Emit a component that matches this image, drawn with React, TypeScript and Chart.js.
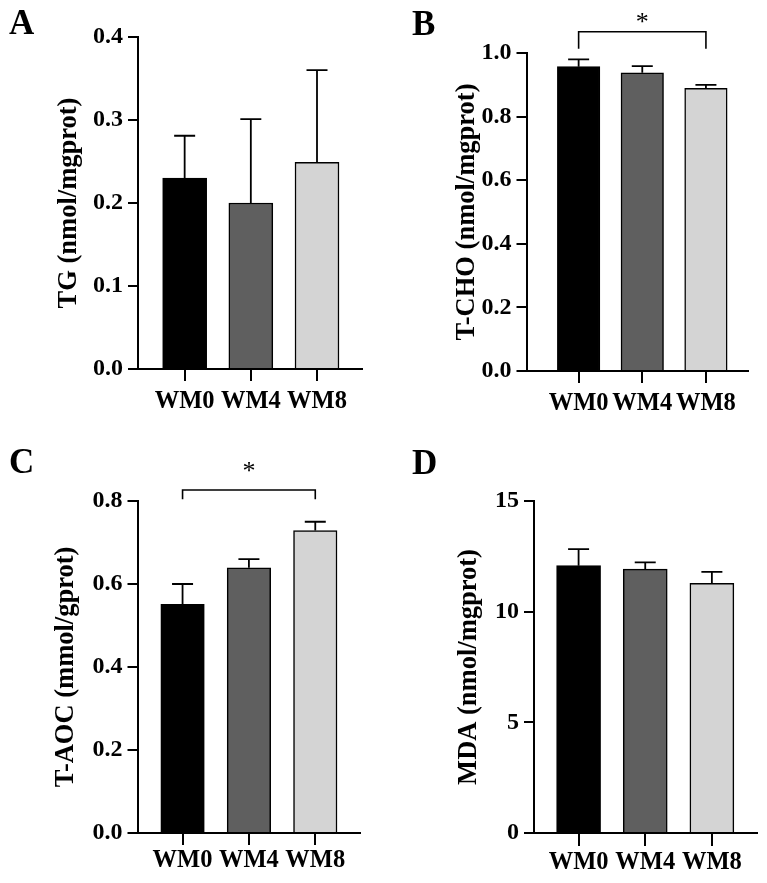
import React, { useEffect, useRef } from "react";
import { Chart, registerables } from "chart.js";

Chart.register(...registerables);

// ---------- data ----------
const categories = ["WM0", "WM4", "WM8"];

const tgMean = [0.23, 0.2, 0.249];
const tgErr = [0.051, 0.101, 0.111];
const tgTicks = [0, 0.1, 0.2, 0.3, 0.4];

const tchoMean = [0.957, 0.938, 0.889];
const tchoErr = [0.023, 0.021, 0.011];
const tchoTicks = [0, 0.2, 0.4, 0.6, 0.8, 1.0];

const taocMean = [0.551, 0.639, 0.729];
const taocErr = [0.049, 0.021, 0.021];
const taocTicks = [0, 0.2, 0.4, 0.6, 0.8];

const mdaMean = [12.08, 11.92, 11.28];
const mdaErr = [0.75, 0.31, 0.52];
const mdaTicks = [0, 5, 10, 15];

// significance brackets: compared categories and levels (data units)
const tchoSig = { from: 0, to: 2, top: 1.067, leg: 1.013, star: 1.112, label: "*" };
const taocSig = { from: 0, to: 2, top: 0.8265, leg: 0.804, star: 0.884, label: "*" };

const barColors = ["#000000", "#5f5f5f", "#d4d4d4"];

// ---------- layout ----------
const FONT = "'Liberation Serif', 'Times New Roman', serif";

type Sig = { from: number; to: number; top: number; leg: number; star: number; label: string };
type Panel = {
  letter: string;
  letterTop: number;
  letterLeft: number;
  left: number;
  top: number;
  w: number;
  h: number;
  yTitle: string;
  mean: number[];
  err: number[];
  ticks: number[];
  dec: number;
  sig?: Sig;
  axisW: number;
  padTop: number;
  padRight: number;
  bottomH: number;
  xMin: number;
  xMax: number;
  barW: number;
  titlePad: number;
  xPad: number;
  xTick: number;
};

const panels: Panel[] = [
  {
    letter: "A", letterTop: 5, letterLeft: 9,
    left: 0, top: 0, w: 383, h: 440,
    yTitle: "TG (nmol/mgprot)", mean: tgMean, err: tgErr, ticks: tgTicks, dec: 1,
    axisW: 138, padTop: 37, padRight: 21, bottomH: 71,
    xMin: -0.705, xMax: 2.68, barW: 44, titlePad: 53, xPad: 6, xTick: 12,
  },
  {
    letter: "B", letterTop: 6, letterLeft: 412,
    left: 383, top: 0, w: 384, h: 440,
    yTitle: "T-CHO (nmol/mgprot)", mean: tchoMean, err: tchoErr, ticks: tchoTicks, dec: 1, sig: tchoSig,
    axisW: 143.5, padTop: 53, padRight: 19, bottomH: 69,
    xMin: -0.819, xMax: 2.661, barW: 42.5, titlePad: 68, xPad: 6, xTick: 12,
  },
  {
    letter: "C", letterTop: 444, letterLeft: 9,
    left: 0, top: 440, w: 383, h: 443,
    yTitle: "T-AOC (mmol/gprot)", mean: taocMean, err: taocErr, ticks: taocTicks, dec: 1, sig: taocSig,
    axisW: 137.5, padTop: 61, padRight: 23, bottomH: 50,
    xMin: -0.679, xMax: 2.674, barW: 43.5, titlePad: 50, xPad: 1, xTick: 12,
  },
  {
    letter: "D", letterTop: 445, letterLeft: 412,
    left: 383, top: 440, w: 384, h: 443,
    yTitle: "MDA (nmol/mgprot)", mean: mdaMean, err: mdaErr, ticks: mdaTicks, dec: 0,
    axisW: 151, padTop: 61, padRight: 10, bottomH: 50,
    xMin: -0.669, xMax: 2.677, barW: 44, titlePad: 70, xPad: 2, xTick: 13,
  },
];

function PanelChart({ p }: { p: Panel }) {
  const ref = useRef<HTMLCanvasElement>(null);

  useEffect(() => {
    const canvas = ref.current;
    if (!canvas) return;

    const errorBars = {
      id: "errorBars",
      afterDatasetsDraw(chart: any) {
        const ctx = chart.ctx;
        const meta = chart.getDatasetMeta(0);
        const ys = chart.scales.y;
        ctx.save();
        ctx.strokeStyle = "#000";
        ctx.lineWidth = 1.8;
        meta.data.forEach((el: any, i: number) => {
          const x = el.x;
          const yTop = ys.getPixelForValue(p.mean[i] + p.err[i]);
          ctx.beginPath();
          ctx.moveTo(x, el.y);
          ctx.lineTo(x, yTop);
          ctx.moveTo(x - 10.5, yTop);
          ctx.lineTo(x + 10.5, yTop);
          ctx.stroke();
        });
        ctx.restore();
      },
    };

    const bracket = {
      id: "bracket",
      afterDraw(chart: any) {
        const s = p.sig;
        if (!s) return;
        const ctx = chart.ctx;
        const xs = chart.scales.x;
        const ys = chart.scales.y;
        const x1 = xs.getPixelForValue(s.from);
        const x2 = xs.getPixelForValue(s.to);
        const yT = ys.getPixelForValue(s.top);
        const yL = ys.getPixelForValue(s.leg);
        ctx.save();
        ctx.strokeStyle = "#000";
        ctx.lineWidth = 1.6;
        ctx.beginPath();
        ctx.moveTo(x1, yL);
        ctx.lineTo(x1, yT);
        ctx.lineTo(x2, yT);
        ctx.lineTo(x2, yL);
        ctx.stroke();
        const size = 26;
        ctx.fillStyle = "#000";
        ctx.font = `normal ${size}px ${FONT}`;
        ctx.textAlign = "center";
        ctx.textBaseline = "alphabetic";
        ctx.fillText(s.label, (x1 + x2) / 2, ys.getPixelForValue(s.star) + 0.5 * size);
        ctx.restore();
      },
    };

    const tickFont = { family: FONT, size: 24, weight: "bold" as const };

    const chart = new Chart(canvas, {
      type: "bar",
      data: {
        datasets: [
          {
            data: p.mean.map((v, i) => ({ x: i, y: v })),
            backgroundColor: barColors,
            borderColor: "#000",
            borderWidth: 1.5,
            barThickness: p.barW,
          } as any,
        ],
      },
      options: {
        animation: false,
        responsive: false,
        layout: { padding: { left: 0, top: p.padTop, right: p.padRight, bottom: 0 } },
        plugins: { legend: { display: false }, tooltip: { enabled: false } },
        scales: {
          x: {
            type: "linear",
            offset: false,
            min: p.xMin,
            max: p.xMax,
            afterFit: (s: any) => {
              s.height = p.bottomH;
            },
            afterBuildTicks: (s: any) => {
              s.ticks = categories.map((_, i) => ({ value: i }));
            },
            ticks: {
              autoSkip: false,
              maxRotation: 0,
              minRotation: 0,
              padding: p.xPad,
              color: "#000",
              font: { family: FONT, size: 24.5, weight: "bold" },
              callback: (v: any) => categories[Math.round(Number(v))] ?? "",
            },
            grid: {
              offset: false,
              drawOnChartArea: false,
              drawTicks: true,
              tickLength: p.xTick,
              color: "#000",
              lineWidth: 2,
            },
            border: { display: true, color: "#000", width: 2 },
          },
          y: {
            min: p.ticks[0],
            max: p.ticks[p.ticks.length - 1],
            afterFit: (s: any) => {
              s.width = p.axisW;
            },
            afterBuildTicks: (s: any) => {
              s.ticks = p.ticks.map((v) => ({ value: v }));
            },
            ticks: {
              padding: 5,
              color: "#000",
              font: tickFont,
              callback: (v: any) => Number(v).toFixed(p.dec),
            },
            title: {
              display: true,
              text: p.yTitle,
              color: "#000",
              font: { family: FONT, size: 26.5, weight: "bold" },
              padding: { top: p.titlePad, bottom: 0 },
            },
            grid: { drawOnChartArea: false, drawTicks: true, tickLength: 10, color: "#000", lineWidth: 2 },
            border: { display: true, color: "#000", width: 2 },
          },
        },
      } as any,
      plugins: [errorBars, bracket],
    });

    return () => chart.destroy();
  }, [p]);

  return (
    <canvas
      ref={ref}
      width={p.w}
      height={p.h}
      style={{ position: "absolute", left: p.left, top: p.top, width: p.w, height: p.h, display: "block" }}
    />
  );
}

export default function App() {
  return (
    <div style={{ position: "absolute", left: 0, top: 0, width: 767, height: 883, background: "#fff", overflow: "hidden" }}>
      {panels.map((p) => (
        <PanelChart key={p.letter} p={p} />
      ))}
      {panels.map((p) => (
        <div
          key={"l" + p.letter}
          style={{
            position: "absolute",
            left: p.letterLeft,
            top: p.letterTop,
            fontFamily: FONT,
            fontWeight: "bold",
            fontSize: 35,
            lineHeight: 1,
            color: "#000",
          }}
        >
          {p.letter}
        </div>
      ))}
    </div>
  );
}
